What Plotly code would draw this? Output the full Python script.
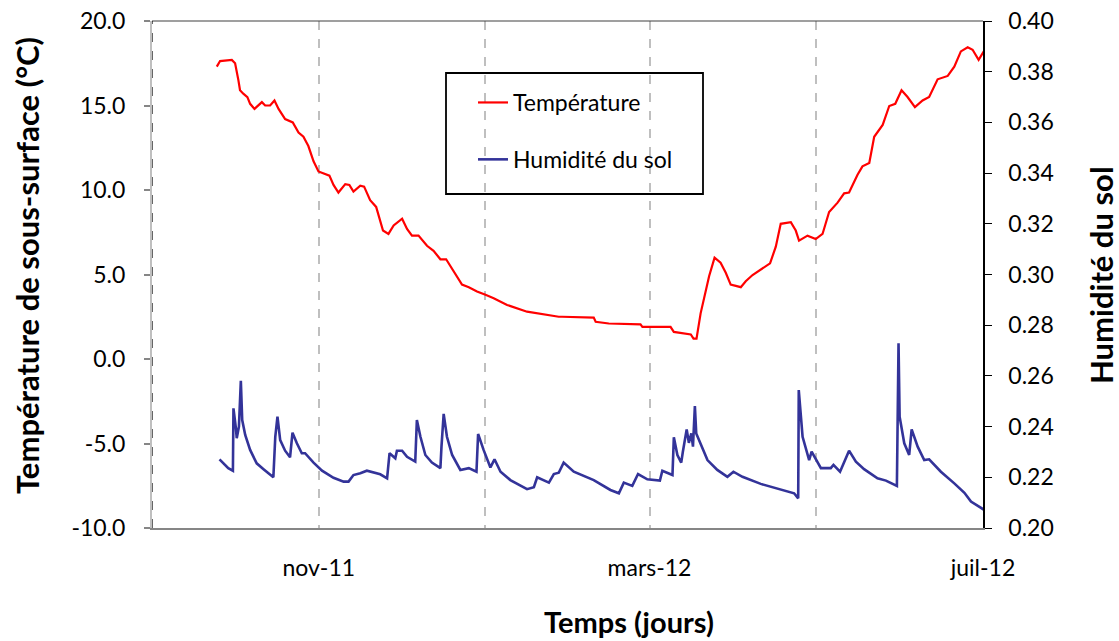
import pandas as pd
import plotly.graph_objects as go

# ---------------- data ----------------
START = pd.Timestamp("2011-09-01")

temp_days = [23.7, 24.9, 29.2, 30.4, 31.6, 32.2, 33.4, 34.9, 35.9, 37.5, 40.2, 41.4, 43.2, 44.8,
             46.3, 48.7, 51.5, 53.6, 55.4, 57.2, 59.1, 60.9, 64.9, 66.4, 68.2, 70.7, 72.2, 73.7,
             76.2, 77.6, 79.8, 82.0, 84.5, 86.5, 88.4, 91.5, 93.3, 95.1, 97.5, 100.6, 103.0, 105.5,
             107.6, 110.4, 113.4, 115.9, 118.9, 122.0, 125.0, 129.9, 137.2, 148.8, 150.0, 161.6,
             162.3, 167.1, 178.7, 179.4, 189.7, 190.9, 197.1, 198.1, 199.2, 200.7, 201.9, 203.8,
             205.8, 208.0, 209.9, 211.7, 215.4, 217.2, 219.7, 222.7, 226.1, 228.2, 230.0, 233.7,
             235.5, 236.7, 239.8, 242.8, 245.3, 247.7, 250.8, 253.2, 255.0, 258.1, 259.9, 262.4,
             264.2, 267.3, 269.7, 271.9, 274.2, 276.4, 279.1, 281.9, 284.3, 287.4, 291.1, 293.5,
             295.9, 298.4, 300.2, 302.4, 304.3, 305.8]
temperature = [17.3, 17.63, 17.7, 17.5, 16.5, 15.9, 15.7, 15.5, 15.1, 14.8, 15.2, 15.0, 15.0, 15.3,
               14.8, 14.2, 14.0, 13.4, 13.15, 12.6, 11.7, 11.1, 10.85, 10.3, 9.85, 10.35, 10.3, 9.9,
               10.25, 10.2, 9.4, 9.0, 7.6, 7.4, 7.9, 8.3, 7.7, 7.3, 7.3, 6.7, 6.4, 5.9,
               5.9, 5.2, 4.4, 4.25, 4.0, 3.8, 3.6, 3.2, 2.8, 2.5, 2.5, 2.45,
               2.2, 2.1, 2.05, 1.9, 1.9, 1.6, 1.45, 1.2, 1.2, 2.7, 3.5, 4.9,
               6.0, 5.7, 5.1, 4.4, 4.25, 4.6, 4.97, 5.27, 5.66, 6.65, 8.0, 8.1,
               7.6, 7.0, 7.3, 7.1, 7.4, 8.7, 9.25, 9.8, 9.85, 10.9, 11.4, 11.6,
               13.15, 13.85, 14.97, 15.1, 15.9, 15.5, 14.9, 15.3, 15.5, 16.55, 16.75, 17.3,
               18.2, 18.45, 18.3, 17.7, 18.2, 18.6]

hum_days = [24.7, 27.9, 29.6, 29.8, 30.7, 31.0, 31.8, 32.5, 33.0, 34.1, 35.9, 38.3, 40.8, 44.4,
            45.1, 45.9, 46.9, 48.7, 50.5, 51.4, 53.0, 54.8, 56.0, 59.1, 62.2, 66.4, 70.1, 71.9,
            73.7, 76.2, 78.6, 81.1, 83.5, 86.0, 86.9, 89.0, 89.6, 91.5, 93.3, 96.3, 96.9, 98.2,
            100.0, 102.4, 105.5, 105.9, 106.7, 107.9, 109.8, 112.8, 115.9, 118.7, 119.3, 121.3,
            123.8, 125.3, 127.5, 131.1, 134.8, 137.2, 139.7, 140.9, 145.2, 147.0, 148.8, 150.6,
            154.3, 161.6, 167.7, 170.8, 172.6, 175.7, 177.8, 181.2, 185.8, 186.7, 190.4, 190.9,
            192.2, 193.6, 194.2, 195.6, 196.4, 197.3, 197.9, 198.6, 199.1, 200.7, 203.2, 206.8,
            210.5, 212.7, 216.0, 222.7, 228.8, 234.9, 236.4, 236.6, 238.0, 240.4, 241.3, 244.7,
            248.3, 249.3, 251.7, 255.0, 257.5, 260.5, 265.4, 268.5, 272.5, 272.8, 273.1, 273.5,
            275.2, 277.0, 277.9, 280.1, 282.5, 284.3, 288.6, 293.5, 297.2, 299.6, 302.6, 304.5]
humidity = [0.2271, 0.2236, 0.2226, 0.2472, 0.2393, 0.2354, 0.2400, 0.2581, 0.2426, 0.2367, 0.2308,
            0.2255, 0.2232, 0.2200, 0.2360, 0.2439, 0.2347, 0.2305, 0.2279, 0.2376, 0.2334, 0.2295,
            0.2295, 0.2258, 0.2226, 0.2198, 0.2183, 0.2183, 0.2209, 0.2216, 0.2226, 0.2218, 0.2212,
            0.2196, 0.2295, 0.2275, 0.2305, 0.2305, 0.2281, 0.2262, 0.2426, 0.2360, 0.2288, 0.2258,
            0.2236, 0.2321, 0.2450, 0.2360, 0.2288, 0.2229, 0.2236, 0.2222, 0.2371, 0.2308, 0.2239,
            0.2271, 0.2222, 0.2189, 0.2167, 0.2153, 0.2161, 0.2200, 0.2179, 0.2213, 0.2218, 0.2258,
            0.2222, 0.2189, 0.2150, 0.2137, 0.2179, 0.2166, 0.2213, 0.2192, 0.2187, 0.2226, 0.2209,
            0.2358, 0.2288, 0.2258, 0.2301, 0.2389, 0.2336, 0.2373, 0.2321, 0.2481, 0.2373, 0.2334,
            0.2268, 0.2229, 0.2202, 0.2222, 0.2202, 0.2174, 0.2154, 0.2137, 0.2117, 0.2544, 0.2360,
            0.2268, 0.2301, 0.2236, 0.2236, 0.2249, 0.2222, 0.2305, 0.2262, 0.2232, 0.2196, 0.2187,
            0.2166, 0.2498, 0.2729, 0.2439, 0.2334, 0.2288, 0.2389, 0.2321, 0.2268, 0.2271, 0.2222,
            0.2176, 0.2139, 0.2104, 0.2084, 0.2071]

month_ticks = ["2011-09-01", "2011-11-01", "2012-01-01", "2012-03-01", "2012-05-01", "2012-07-01"]
month_labels = ["", "nov-11", "", "mars-12", "", "juil-12"]
temp_ticks = [-10, -5, 0, 5, 10, 15, 20]
hum_ticks = [0.20, 0.22, 0.24, 0.26, 0.28, 0.30, 0.32, 0.34, 0.36, 0.38, 0.40]

# ---------------- figure ----------------
FONT = "Lato, 'Open Sans', sans-serif"
W, H = 1119, 641
L, R, T, B = 152, 983, 21, 528          # plot area edges in px
PW, PH = R - L, B - T


def px(x):
    return (x - L) / PW


def py(y):
    return (B - y) / PH


temp_x = START + pd.to_timedelta(temp_days, unit="D")
hum_x = START + pd.to_timedelta(hum_days, unit="D")

fig = go.Figure()
fig.add_trace(go.Scatter(x=temp_x, y=temperature, mode="lines", name="Température",
                         line=dict(color="#FF0000", width=2.2), legendgroup="a"))
fig.add_trace(go.Scatter(x=hum_x, y=humidity, mode="lines", name="Humidité du sol",
                         line=dict(color="#333399", width=2.6), yaxis="y2", legendgroup="b"))

fig.update_layout(
    width=W, height=H,
    margin=dict(l=L, r=W - R, t=T, b=H - B, autoexpand=False),
    paper_bgcolor="white", plot_bgcolor="white",
    font=dict(family=FONT, size=23, color="black"),
    showlegend=True,
    legend=dict(x=px(473), y=py(81), xanchor="left", yanchor="top",
                borderwidth=0, bgcolor="rgba(0,0,0,0)",
                font=dict(family=FONT, size=23), tracegroupgap=24,
                traceorder="grouped", itemwidth=30),
    xaxis=dict(type="date", range=[month_ticks[0], month_ticks[-1]],
               tickvals=month_ticks, ticktext=month_labels,
               showgrid=True, gridcolor="#BFBFBF", griddash="dash", gridwidth=2,
               showline=True, linecolor="#868686", linewidth=2,
               ticks="", ticklabelstandoff=18, zeroline=False,
               tickfont=dict(family=FONT, size=23)),
    yaxis=dict(range=[-10, 20], tickvals=temp_ticks,
               ticktext=["%.1f" % v for v in temp_ticks],
               showgrid=False, zeroline=False,
               showline=True, linecolor="#BFBFBF", linewidth=2,
               ticks="outside", ticklen=6, tickcolor="#868686", tickwidth=1.5,
               ticklabelstandoff=14, tickfont=dict(family=FONT, size=23)),
    yaxis2=dict(range=[0.20, 0.40], tickvals=hum_ticks,
                ticktext=["%.2f" % v for v in hum_ticks],
                overlaying="y", side="right", showgrid=False, zeroline=False,
                showline=True, linecolor="black", linewidth=1.5,
                ticks="outside", ticklen=7, tickcolor="black", tickwidth=1.2,
                ticklabelstandoff=12, tickfont=dict(family=FONT, size=23)),
    shapes=[
        dict(type="line", xref="paper", yref="paper", x0=0, x1=1, y0=1, y1=1,
             line=dict(color="#404040", width=1.2)),
        dict(type="line", xref="x", yref="paper", x0=month_ticks[0], x1=month_ticks[0],
             y0=0, y1=1, line=dict(color="black", width=1.2, dash="dash")),
        dict(type="rect", xref="paper", yref="paper", x0=px(446), x1=px(703),
             y0=py(194), y1=py(73), layer="between", fillcolor="white",
             line=dict(color="black", width=1.8)),
    ],
    annotations=[
        dict(text="<b>Température de sous-surface (°C)</b>", xref="paper", yref="paper",
             x=px(27), y=py(266), textangle=-90, showarrow=False,
             font=dict(family=FONT, size=31), xanchor="center", yanchor="middle"),
        dict(text="<b>Humidité du sol</b>", xref="paper", yref="paper",
             x=px(1101), y=py(275), textangle=-90, showarrow=False,
             font=dict(family=FONT, size=31), xanchor="center", yanchor="middle"),
        dict(text="<b>Temps (jours)</b>", xref="paper", yref="paper",
             x=px(629), y=py(621), showarrow=False,
             font=dict(family=FONT, size=29), xanchor="center", yanchor="middle"),
    ],
)

fig.write_html("out.html",
               config={"displayModeBar": False},
               post_script="document.body.style.margin='0px';"
                           "document.documentElement.style.overflow='hidden';"
                           "document.body.style.overflow='hidden';")
